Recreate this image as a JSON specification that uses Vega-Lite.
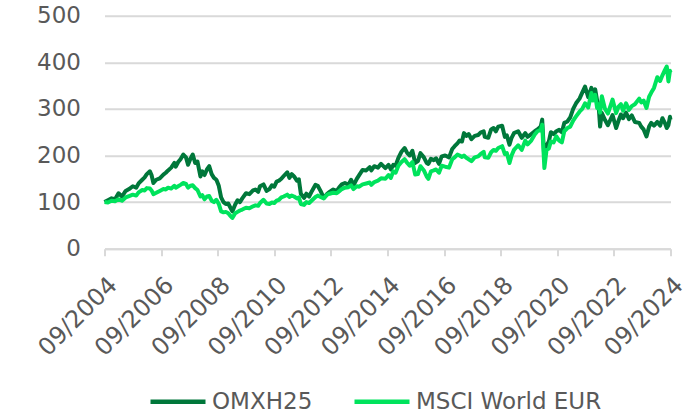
{
  "$schema": "https://vega.github.io/schema/vega-lite/v6.json",
  "width": 566,
  "height": 233,
  "autosize": {"type": "none"},
  "padding": {"left": 104.5, "top": 15.7, "right": 26.5, "bottom": 167.3},
  "config": {
    "view": {"stroke": null},
    "font": "DejaVu Sans",
    "axis": {"labelFont": "DejaVu Sans", "labelColor": "#595959", "labelFontSize": 23, "title": null}
  },
  "data": {"values": [
    {"d": "2004-09-01", "omx": 100, "msci": 100},
    {"d": "2004-10-15", "omx": 104, "msci": 99},
    {"d": "2004-12-01", "omx": 108, "msci": 103},
    {"d": "2005-01-15", "omx": 106, "msci": 102},
    {"d": "2005-03-01", "omx": 119, "msci": 106},
    {"d": "2005-04-15", "omx": 112, "msci": 103},
    {"d": "2005-06-01", "omx": 124, "msci": 110},
    {"d": "2005-07-15", "omx": 128, "msci": 113},
    {"d": "2005-09-01", "omx": 134, "msci": 116},
    {"d": "2005-10-15", "omx": 131, "msci": 114},
    {"d": "2005-11-15", "omx": 140, "msci": 121},
    {"d": "2006-01-01", "omx": 148, "msci": 126},
    {"d": "2006-02-01", "omx": 153, "msci": 125},
    {"d": "2006-03-01", "omx": 160, "msci": 130},
    {"d": "2006-04-10", "omx": 166, "msci": 129},
    {"d": "2006-05-01", "omx": 158, "msci": 125},
    {"d": "2006-05-25", "omx": 141, "msci": 117},
    {"d": "2006-07-01", "omx": 148, "msci": 120},
    {"d": "2006-08-15", "omx": 151, "msci": 124},
    {"d": "2006-10-01", "omx": 159, "msci": 128},
    {"d": "2006-11-01", "omx": 163, "msci": 127},
    {"d": "2006-12-01", "omx": 168, "msci": 131},
    {"d": "2007-01-10", "omx": 174, "msci": 129},
    {"d": "2007-02-20", "omx": 184, "msci": 135},
    {"d": "2007-03-10", "omx": 176, "msci": 131},
    {"d": "2007-04-10", "omx": 186, "msci": 134},
    {"d": "2007-05-10", "omx": 192, "msci": 137},
    {"d": "2007-06-15", "omx": 202, "msci": 141},
    {"d": "2007-07-20", "omx": 196, "msci": 139},
    {"d": "2007-08-15", "omx": 180, "msci": 131},
    {"d": "2007-09-15", "omx": 193, "msci": 135},
    {"d": "2007-10-15", "omx": 202, "msci": 136},
    {"d": "2007-11-15", "omx": 184, "msci": 130},
    {"d": "2007-12-15", "omx": 187, "msci": 126},
    {"d": "2008-01-22", "omx": 155, "msci": 112},
    {"d": "2008-02-15", "omx": 166, "msci": 115},
    {"d": "2008-03-15", "omx": 158, "msci": 106},
    {"d": "2008-04-15", "omx": 170, "msci": 112},
    {"d": "2008-05-15", "omx": 177, "msci": 113},
    {"d": "2008-06-15", "omx": 160, "msci": 103},
    {"d": "2008-07-15", "omx": 152, "msci": 100},
    {"d": "2008-08-15", "omx": 148, "msci": 105},
    {"d": "2008-09-15", "omx": 135, "msci": 96},
    {"d": "2008-10-15", "omx": 110, "msci": 80},
    {"d": "2008-11-15", "omx": 100, "msci": 78},
    {"d": "2008-12-15", "omx": 96, "msci": 79},
    {"d": "2009-01-15", "omx": 97, "msci": 76},
    {"d": "2009-02-15", "omx": 87, "msci": 70},
    {"d": "2009-03-09", "omx": 80, "msci": 66},
    {"d": "2009-04-15", "omx": 95, "msci": 76},
    {"d": "2009-05-15", "omx": 104, "msci": 79},
    {"d": "2009-06-15", "omx": 100, "msci": 82},
    {"d": "2009-07-15", "omx": 108, "msci": 84},
    {"d": "2009-09-01", "omx": 119, "msci": 88},
    {"d": "2009-10-15", "omx": 117, "msci": 87},
    {"d": "2009-12-01", "omx": 125, "msci": 91},
    {"d": "2010-01-01", "omx": 127, "msci": 93},
    {"d": "2010-02-05", "omx": 122, "msci": 92},
    {"d": "2010-03-01", "omx": 134, "msci": 98},
    {"d": "2010-04-15", "omx": 138, "msci": 105},
    {"d": "2010-05-25", "omx": 124, "msci": 97},
    {"d": "2010-07-01", "omx": 128, "msci": 96},
    {"d": "2010-08-01", "omx": 136, "msci": 99},
    {"d": "2010-09-01", "omx": 133, "msci": 98},
    {"d": "2010-10-01", "omx": 144, "msci": 103},
    {"d": "2010-11-01", "omx": 146, "msci": 105},
    {"d": "2010-12-01", "omx": 150, "msci": 110},
    {"d": "2011-01-01", "omx": 156, "msci": 112},
    {"d": "2011-02-15", "omx": 164, "msci": 116},
    {"d": "2011-03-15", "omx": 152, "msci": 111},
    {"d": "2011-04-15", "omx": 160, "msci": 114},
    {"d": "2011-05-15", "omx": 155, "msci": 112},
    {"d": "2011-06-20", "omx": 146, "msci": 108},
    {"d": "2011-07-15", "omx": 149, "msci": 110},
    {"d": "2011-08-10", "omx": 118, "msci": 96},
    {"d": "2011-09-20", "omx": 109, "msci": 94},
    {"d": "2011-10-20", "omx": 118, "msci": 100},
    {"d": "2011-11-25", "omx": 112, "msci": 98},
    {"d": "2012-01-01", "omx": 124, "msci": 104},
    {"d": "2012-02-15", "omx": 137, "msci": 111},
    {"d": "2012-03-15", "omx": 135, "msci": 114},
    {"d": "2012-04-20", "omx": 124, "msci": 111},
    {"d": "2012-06-01", "omx": 109, "msci": 108},
    {"d": "2012-07-15", "omx": 118, "msci": 116},
    {"d": "2012-08-15", "omx": 122, "msci": 118},
    {"d": "2012-10-01", "omx": 127, "msci": 120},
    {"d": "2012-11-15", "omx": 124, "msci": 119},
    {"d": "2012-12-15", "omx": 131, "msci": 123},
    {"d": "2013-01-20", "omx": 138, "msci": 128},
    {"d": "2013-03-01", "omx": 141, "msci": 131},
    {"d": "2013-04-15", "omx": 137, "msci": 132},
    {"d": "2013-05-20", "omx": 148, "msci": 136},
    {"d": "2013-06-20", "omx": 136, "msci": 128},
    {"d": "2013-08-01", "omx": 150, "msci": 134},
    {"d": "2013-09-01", "omx": 158, "msci": 133},
    {"d": "2013-10-15", "omx": 169, "msci": 138},
    {"d": "2013-12-01", "omx": 168, "msci": 140},
    {"d": "2014-01-15", "omx": 175, "msci": 142},
    {"d": "2014-02-05", "omx": 168, "msci": 137},
    {"d": "2014-03-15", "omx": 177, "msci": 143},
    {"d": "2014-05-01", "omx": 174, "msci": 146},
    {"d": "2014-06-10", "omx": 182, "msci": 151},
    {"d": "2014-08-05", "omx": 173, "msci": 150},
    {"d": "2014-09-15", "omx": 180, "msci": 158},
    {"d": "2014-10-15", "omx": 170, "msci": 152},
    {"d": "2014-11-15", "omx": 180, "msci": 166},
    {"d": "2014-12-15", "omx": 178, "msci": 163},
    {"d": "2015-01-20", "omx": 195, "msci": 178},
    {"d": "2015-03-01", "omx": 208, "msci": 186},
    {"d": "2015-04-10", "omx": 216, "msci": 192},
    {"d": "2015-05-15", "omx": 205, "msci": 184},
    {"d": "2015-06-15", "omx": 200, "msci": 178},
    {"d": "2015-07-20", "omx": 210, "msci": 186},
    {"d": "2015-08-25", "omx": 184, "msci": 159},
    {"d": "2015-09-29", "omx": 188, "msci": 160},
    {"d": "2015-11-01", "omx": 205, "msci": 177},
    {"d": "2015-12-15", "omx": 196, "msci": 168},
    {"d": "2016-01-20", "omx": 184, "msci": 155},
    {"d": "2016-02-11", "omx": 182, "msci": 150},
    {"d": "2016-03-15", "omx": 193, "msci": 166},
    {"d": "2016-04-20", "omx": 190, "msci": 168},
    {"d": "2016-05-20", "omx": 194, "msci": 170},
    {"d": "2016-06-27", "omx": 182, "msci": 163},
    {"d": "2016-08-01", "omx": 198, "msci": 178},
    {"d": "2016-09-15", "omx": 200, "msci": 176},
    {"d": "2016-11-04", "omx": 196, "msci": 174},
    {"d": "2016-12-15", "omx": 214, "msci": 192},
    {"d": "2017-01-15", "omx": 220, "msci": 196},
    {"d": "2017-02-20", "omx": 226, "msci": 202},
    {"d": "2017-03-20", "omx": 232, "msci": 200},
    {"d": "2017-04-20", "omx": 230, "msci": 197},
    {"d": "2017-05-15", "omx": 248, "msci": 200},
    {"d": "2017-06-15", "omx": 242, "msci": 195},
    {"d": "2017-07-15", "omx": 246, "msci": 192},
    {"d": "2017-08-20", "omx": 235, "msci": 188},
    {"d": "2017-10-01", "omx": 242, "msci": 196},
    {"d": "2017-11-15", "omx": 244, "msci": 198},
    {"d": "2017-12-15", "omx": 249, "msci": 203},
    {"d": "2018-01-25", "omx": 252, "msci": 208},
    {"d": "2018-02-08", "omx": 240, "msci": 196},
    {"d": "2018-03-25", "omx": 238, "msci": 195},
    {"d": "2018-05-01", "omx": 256, "msci": 207},
    {"d": "2018-06-01", "omx": 259, "msci": 212},
    {"d": "2018-07-01", "omx": 252, "msci": 210},
    {"d": "2018-08-01", "omx": 262, "msci": 216},
    {"d": "2018-09-20", "omx": 264, "msci": 220},
    {"d": "2018-10-25", "omx": 240, "msci": 203},
    {"d": "2018-11-20", "omx": 243, "msci": 205},
    {"d": "2018-12-24", "omx": 223, "msci": 184},
    {"d": "2019-01-20", "omx": 238, "msci": 200},
    {"d": "2019-02-20", "omx": 248, "msci": 212},
    {"d": "2019-04-15", "omx": 252, "msci": 222},
    {"d": "2019-05-31", "omx": 238, "msci": 212},
    {"d": "2019-07-15", "omx": 248, "msci": 232},
    {"d": "2019-08-15", "omx": 240, "msci": 224},
    {"d": "2019-10-01", "omx": 246, "msci": 232},
    {"d": "2019-11-15", "omx": 252, "msci": 245},
    {"d": "2019-12-20", "omx": 256, "msci": 252},
    {"d": "2020-01-31", "omx": 262, "msci": 255},
    {"d": "2020-02-19", "omx": 277, "msci": 266},
    {"d": "2020-03-18", "omx": 192, "msci": 173},
    {"d": "2020-04-15", "omx": 222, "msci": 212},
    {"d": "2020-05-15", "omx": 230, "msci": 215},
    {"d": "2020-06-10", "omx": 250, "msci": 230},
    {"d": "2020-07-15", "omx": 246, "msci": 228},
    {"d": "2020-08-20", "omx": 252, "msci": 241},
    {"d": "2020-09-25", "omx": 255, "msci": 232},
    {"d": "2020-10-30", "omx": 250, "msci": 228},
    {"d": "2020-11-30", "omx": 270, "msci": 252},
    {"d": "2021-01-10", "omx": 273, "msci": 259},
    {"d": "2021-02-15", "omx": 282, "msci": 262},
    {"d": "2021-03-25", "omx": 300, "msci": 275},
    {"d": "2021-05-01", "omx": 312, "msci": 284},
    {"d": "2021-06-15", "omx": 322, "msci": 294},
    {"d": "2021-07-20", "omx": 335, "msci": 300},
    {"d": "2021-08-25", "omx": 348, "msci": 312},
    {"d": "2021-10-05", "omx": 325, "msci": 303},
    {"d": "2021-11-15", "omx": 345, "msci": 334},
    {"d": "2021-12-05", "omx": 328, "msci": 318},
    {"d": "2022-01-03", "omx": 342, "msci": 330},
    {"d": "2022-01-28", "omx": 318, "msci": 302},
    {"d": "2022-02-15", "omx": 310, "msci": 310},
    {"d": "2022-03-07", "omx": 262, "msci": 292},
    {"d": "2022-03-30", "omx": 291, "msci": 327},
    {"d": "2022-05-10", "omx": 276, "msci": 300},
    {"d": "2022-06-16", "omx": 265, "msci": 290},
    {"d": "2022-08-15", "omx": 287, "msci": 320},
    {"d": "2022-09-30", "omx": 259, "msci": 291},
    {"d": "2022-11-01", "omx": 275, "msci": 305},
    {"d": "2022-12-01", "omx": 288, "msci": 310},
    {"d": "2022-12-28", "omx": 280, "msci": 296},
    {"d": "2023-02-05", "omx": 292, "msci": 312},
    {"d": "2023-03-15", "omx": 278, "msci": 298},
    {"d": "2023-04-20", "omx": 286, "msci": 306},
    {"d": "2023-05-30", "omx": 272, "msci": 310},
    {"d": "2023-07-25", "omx": 270, "msci": 322},
    {"d": "2023-08-20", "omx": 262, "msci": 314},
    {"d": "2023-09-20", "omx": 256, "msci": 318},
    {"d": "2023-10-27", "omx": 241, "msci": 302},
    {"d": "2023-11-30", "omx": 262, "msci": 326},
    {"d": "2023-12-28", "omx": 270, "msci": 335},
    {"d": "2024-02-01", "omx": 264, "msci": 345},
    {"d": "2024-03-15", "omx": 272, "msci": 368},
    {"d": "2024-04-20", "omx": 264, "msci": 360},
    {"d": "2024-05-20", "omx": 280, "msci": 372},
    {"d": "2024-06-20", "omx": 270, "msci": 383},
    {"d": "2024-07-15", "omx": 259, "msci": 391},
    {"d": "2024-08-05", "omx": 265, "msci": 359},
    {"d": "2024-08-25", "omx": 283, "msci": 382},
    {"d": "2024-09-01", "omx": 277, "msci": 378}
  ]},
  "encoding": {
    "x": {
      "field": "d", "type": "temporal",
      "scale": {"type": "utc", "domain": [{"year": 2004, "month": 9, "date": 1, "utc": true}, {"year": 2024, "month": 9, "date": 1, "utc": true}]},
      "axis": {
        "values": [
          {"year": 2004, "month": 9, "date": 1, "utc": true},
          {"year": 2006, "month": 9, "date": 1, "utc": true},
          {"year": 2008, "month": 9, "date": 1, "utc": true},
          {"year": 2010, "month": 9, "date": 1, "utc": true},
          {"year": 2012, "month": 9, "date": 1, "utc": true},
          {"year": 2014, "month": 9, "date": 1, "utc": true},
          {"year": 2016, "month": 9, "date": 1, "utc": true},
          {"year": 2018, "month": 9, "date": 1, "utc": true},
          {"year": 2020, "month": 9, "date": 1, "utc": true},
          {"year": 2022, "month": 9, "date": 1, "utc": true},
          {"year": 2024, "month": 9, "date": 1, "utc": true}
        ],
        "labelExpr": "utcFormat(datum.value, '%m/%Y')",
        "labelAngle": 315, "labelAlign": "right", "labelBaseline": "top",
        "labelFontSize": 24,
        "labelPadding": 17, "labelOffset": 0, "labelOverlap": false, "labelBound": false, "labelFlush": false,
        "grid": false, "domainColor": "#d9d9d9", "domainWidth": 2,
        "tickColor": "#d9d9d9", "tickWidth": 2, "tickSize": 7
      }
    }
  },
  "layer": [
    {
      "mark": {"type": "line", "strokeWidth": 4, "strokeJoin": "round"},
      "encoding": {
        "y": {"field": "omx", "type": "quantitative", "scale": {"domain": [0, 500]},
          "axis": {"values": [0, 100, 200, 300, 400, 500], "domain": false, "ticks": false, "labelPadding": 24, "labelFontSize": 23, "gridColor": "#d9d9d9", "gridWidth": 2}},
        "color": {"datum": "OMXH25", "type": "nominal",
          "scale": {"domain": ["OMXH25", "MSCI World EUR"], "range": ["#00773A", "#00E35C"]},
          "legend": {"orient": "none", "legendX": 43.5, "legendY": 356, "direction": "horizontal", "title": null, "symbolType": "stroke", "symbolStrokeWidth": 4.5, "symbolSize": 3025, "labelFontSize": 23, "labelColor": "#595959", "labelFont": "DejaVu Sans", "labelLimit": 400, "columnPadding": 32, "labelOffset": 4}}
      }
    },
    {
      "mark": {"type": "line", "strokeWidth": 4, "strokeJoin": "round"},
      "encoding": {
        "y": {"field": "msci", "type": "quantitative"},
        "color": {"datum": "MSCI World EUR", "type": "nominal"}
      }
    }
  ]
}
